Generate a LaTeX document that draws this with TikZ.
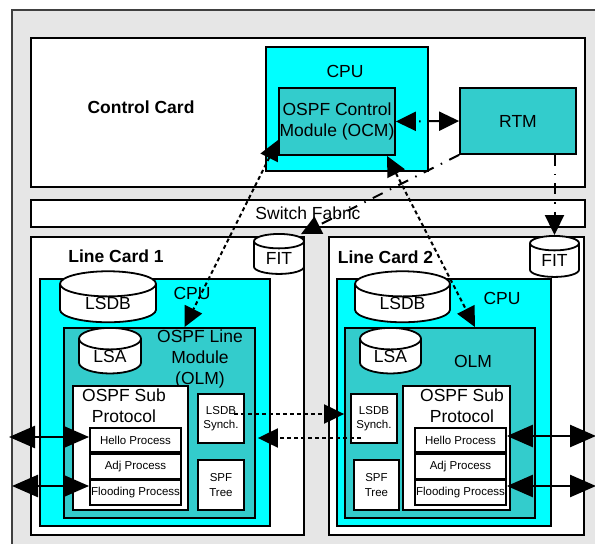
\documentclass[tikz,border=0pt]{standalone}
\usepackage{fontspec}
\setmainfont{Liberation Sans}
\usetikzlibrary{shapes.geometric, arrows.meta, positioning, calc}
\definecolor{cpucyan}{HTML}{00FFFF}
\definecolor{modteal}{HTML}{33CCCC}
\definecolor{rackgray}{HTML}{E6E6E6}
\tikzset{
  card/.style={draw, line width=1.8pt, fill=white, inner sep=0pt},
  cpubox/.style={card, fill=cpucyan},
  modbox/.style={card, fill=modteal},
  procbox/.style={card, minimum width=91pt, minimum height=24.5pt, font=\fontsize{11.5}{13}\selectfont},
  smallbox/.style={card, align=center, font=\fontsize{11.5}{14.5}\selectfont},
  dbcyl/.style={cylinder, shape border rotate=90, draw, line width=1.8pt, fill=white, aspect=0.55, inner sep=0pt},
  big/.style={font=\fontsize{17.5}{21}\selectfont},
  bigbold/.style={font=\fontsize{17.5}{21}\selectfont\bfseries},
  dashdot/.style={line width=2pt, dash pattern=on 11pt off 8pt on 1.5pt off 8pt},
  dotline/.style={line width=2pt, dash pattern=on 4pt off 3pt},
  Tri/.tip={Triangle[length=20pt,width=19pt]},
  BigTri/.tip={Triangle[length=26pt,width=22pt]},
  port/.style={line width=2.5pt, BigTri-BigTri},
}
\begin{document}
\begin{tikzpicture}[x=1pt, y=-1pt]
\useasboundingbox (0,0) rectangle (595,544);
% router frame
\fill[rackgray] (12,10) rectangle (595,544);
\draw[line width=1.8pt, black!75] (12,544) -- (12,10) -- (595,10);

% Control Card
\node[card, minimum width=554pt, minimum height=149pt] (cc) at (308,112.5) {};
\node[bigbold] (cctitle) at (141,107) {Control Card};
\node[cpubox, minimum width=162pt, minimum height=124pt] (cpu0) at (347,109) {};
\node[big] (cpu0title) at (345,71) {CPU};
\node[modbox, big, align=center, minimum width=116pt, minimum height=67pt] (ocm) at (337,121.5) {OSPF Control\\Module (OCM)};
\node[modbox, big, minimum width=116pt, minimum height=66pt] (rtm) at (518,121) {RTM};

% Switch Fabric
\node[card, big, minimum width=554pt, minimum height=27pt] (sf) at (308,213.5) {Switch Fabric};

% Line Card 1
\node[card, minimum width=273pt, minimum height=298pt] (lc1) at (167.5,386) {};
\node[bigbold] (lc1title) at (116,256) {Line Card 1};
\node[dbcyl, big, minimum width=50pt, minimum height=40pt] (fit1) at (279,258) {FIT};
\node[cpubox, minimum width=230pt, minimum height=247pt] (cpu1) at (155,402.5) {};
\node[big] (cpu1title) at (192,293) {CPU};
\node[dbcyl, big, minimum width=96pt, minimum height=39pt] (lsdb1) at (108,303.5) {LSDB};
\node[modbox, minimum width=191pt, minimum height=190pt] (olm1) at (159.5,423) {};
\node[big, align=center] (olm1title) at (200,359) {OSPF Line\\Module\\(OLM)};
\node[dbcyl, big, aspect=0.65, minimum width=62pt, minimum height=41pt] (lsa1) at (110,356.5) {LSA};
\node[card, minimum width=115pt, minimum height=124pt] (sub1) at (130.5,448) {};
\node[big, align=center] (sub1title) at (124,406) {OSPF Sub\\Protocol};
\node[procbox] (hello1) at (135.5,440) {Hello Process};
\node[procbox, below=0pt of hello1] (adj1) {Adj Process};
\node[procbox, below=0pt of adj1] (flood1) {Flooding Process};
\node[smallbox, minimum width=46pt, minimum height=49pt] (sync1) at (221,418.5) {LSDB\\Synch.};
\node[smallbox, minimum width=46pt, minimum height=50pt] (spf1) at (221,485) {SPF\\Tree};

% Line Card 2
\node[card, minimum width=255pt, minimum height=298pt] (lc2) at (456.5,386) {};
\node[bigbold] (lc2title) at (385.5,257) {Line Card 2};
\node[dbcyl, big, minimum width=49pt, minimum height=41pt] (fit2) at (554.5,260.5) {FIT};
\node[cpubox, minimum width=214pt, minimum height=247pt] (cpu2) at (444,402.5) {};
\node[big] (cpu2title) at (502,298) {CPU};
\node[dbcyl, big, minimum width=95pt, minimum height=39pt] (lsdb2) at (402.5,303.5) {LSDB};
\node[modbox, minimum width=190pt, minimum height=190pt] (olm2) at (440,423) {};
\node[big] (olm2title) at (473,361) {OLM};
\node[dbcyl, big, aspect=0.65, minimum width=61pt, minimum height=41pt] (lsa2) at (390.5,356.5) {LSA};
\node[card, minimum width=107pt, minimum height=124pt] (sub2) at (456.5,448) {};
\node[big, align=center] (sub2title) at (462,406) {OSPF Sub\\Protocol};
\node[procbox] (hello2) at (460.5,440) {Hello Process};
\node[procbox, below=0pt of hello2] (adj2) {Adj Process};
\node[procbox, below=0pt of adj2] (flood2) {Flooding Process};
\node[smallbox, minimum width=46pt, minimum height=49pt] (sync2) at (374,418.5) {LSDB\\Synch.};
\node[smallbox, minimum width=45pt, minimum height=50pt] (spf2) at (376.5,485) {SPF\\Tree};

% external ports
\coordinate (in1) at (9,437);
\coordinate (in2) at (12,486);
\coordinate (out1) at (596,436);
\coordinate (out2) at (596,486);

% RTM links
\draw[dashdot, Tri-Tri] (rtm.west) -- (ocm.east);
\draw[dashdot, -Tri] (rtm.south west) -- ([xshift=22pt,yshift=-1pt]fit1.top);
\draw[dashdot, -Tri] (rtm.south -| fit2.top) -- (fit2.top);

% OCM to OLMs
\draw[dotline, Tri-Tri] ([yshift=-18.5pt]ocm.west) -- ([xshift=25pt]olm1.north);
\draw[dotline, Tri-Tri] ([xshift=50pt]ocm.south) -- ([xshift=35pt]olm2.north);

% LSDB synch
\draw[dotline, -Tri, shorten <=-11pt, shorten >=6pt] ([yshift=4.5pt]sync1.east) -- ([yshift=4.5pt]sync2.west);
\draw[dotline, -Tri, shorten <=-11pt, shorten >=13pt] ([yshift=-19.5pt]sync2.west) -- ([yshift=-19.5pt]sync1.east);

% ports
\draw[port] (in1) -- (in1 -| hello1.west);
\draw[port] (in2) -- (in2 -| flood1.west);
\draw[port] (out1 -| hello2.east) -- (out1);
\draw[port] (out2 -| flood2.east) -- (out2);
\end{tikzpicture}
\end{document}
